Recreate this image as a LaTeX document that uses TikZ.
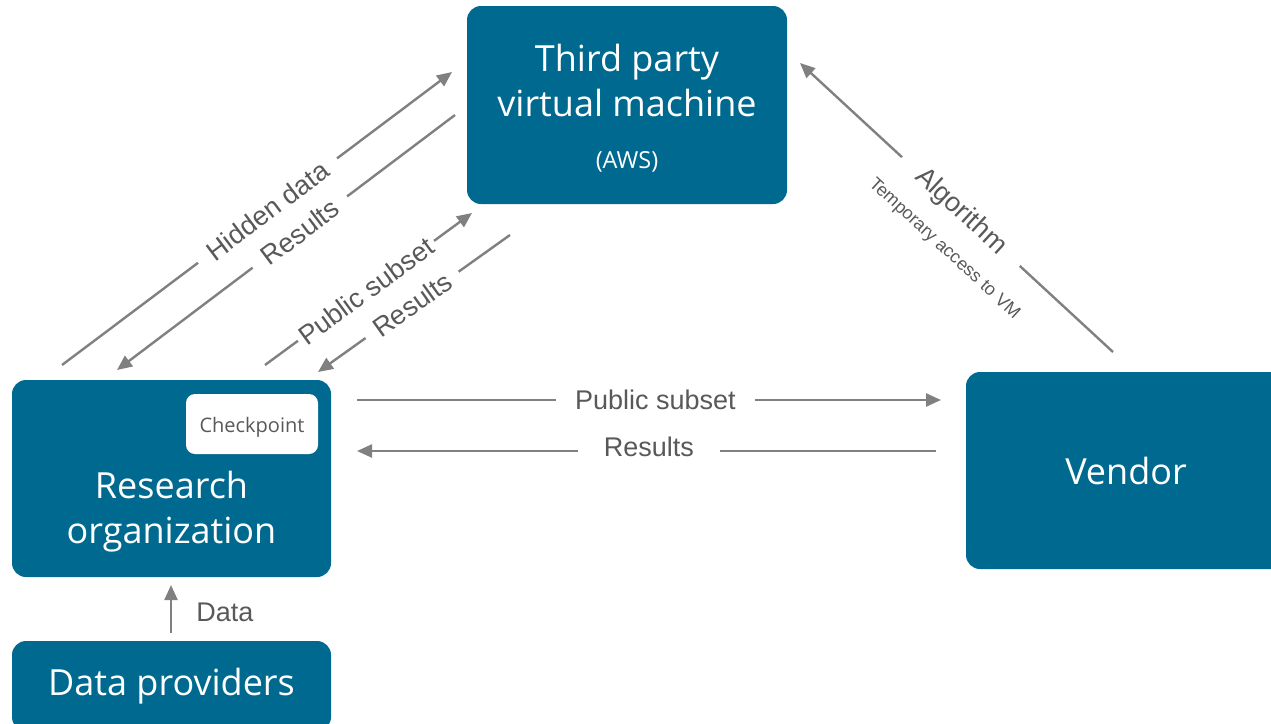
\documentclass[tikz,border=0pt]{standalone}
\usepackage{fontspec}
\setmainfont{Liberation Sans}
\newfontfamily\boxfont{Open Sans}
\usetikzlibrary{arrows.meta}
\definecolor{boxblue}{HTML}{00698F}
\definecolor{linegray}{HTML}{808080}
\definecolor{labelgray}{HTML}{595959}
\begin{document}
\begin{tikzpicture}[x=1pt,y=-1pt,
  entity/.style={fill=boxblue, rounded corners=14pt, inner sep=0pt},
  etext/.style={text=white, font=\boxfont\fontsize{36}{45}\selectfont, align=center, inner sep=0pt},
  conn/.style={draw=linegray, line width=2.4pt, -{Triangle[length=15pt,width=13pt]}},
  lbl/.style={font=\fontsize{27}{30}\selectfont, text=labelgray, fill=white, inner ysep=0pt, sloped},
]
\useasboundingbox (0,0) rectangle (1271,723);
% boxes
\node[entity, minimum width=320pt, minimum height=198pt] (vm) at (627,105) {};
\node[etext] (vmt) at (627,80) {Third party\\virtual machine};
\node[text=white, font=\boxfont\fontsize{23.5}{26}\selectfont, inner sep=0pt] (aws) at (627,161.5) {(AWS)};

\node[entity, minimum width=319pt, minimum height=197pt] (ro) at (171.5,478.5) {};
\node[etext] (rot) at (171.5,512) {Research\\organization};
\node[fill=white, rounded corners=9pt, minimum width=132pt, minimum height=60pt, inner sep=0pt,
      text=labelgray, font=\boxfont\fontsize{20}{22}\selectfont] (cp) at (252,424) {};
\node[text=labelgray, font=\boxfont\fontsize{20}{22}\selectfont, inner sep=0pt] (cpt) at (252,427) {Checkpoint};

\node[entity, minimum width=320pt, minimum height=197pt] (ven) at (1126,470.5) {};
\node[etext] (vent) at (1126,471) {Vendor};

\node[entity, minimum width=319pt, minimum height=90pt] (dp) at (171.5,686) {};
\node[etext] (dpt) at (171.5,686) {Data providers};

% coordinates
\coordinate (hdA) at (62,365);   \coordinate (hdB) at (452,72);
\coordinate (r1A) at (455,115);  \coordinate (r1B) at (117,370);
\coordinate (psA) at (265,365);  \coordinate (psB) at (472,213);
\coordinate (r2A) at (510,235);  \coordinate (r2B) at (318,372);
\coordinate (alA) at (1113,352); \coordinate (alB) at (800,63);
\coordinate (phA) at (357,400);  \coordinate (phB) at (941,400);
\coordinate (rhA) at (936,451);  \coordinate (rhB) at (357,451);
\coordinate (daA) at (171,633);  \coordinate (daB) at (171,585);

% connectors
\draw[conn] (hdA) -- node[lbl, pos=0.527, inner xsep=14pt] (lhd) {Hidden data} (hdB);
\draw[conn] (r1A) -- node[lbl, pos=0.459, inner xsep=14pt] (lr1) {Results} (r1B);
\draw[conn] (psA) -- node[lbl, pos=0.488, inner xsep=4pt] (lps) {Public subset} (psB);
\draw[conn] (r2A) -- node[lbl, pos=0.51, inner xsep=12pt] (lr2) {Results} (r2B);
\draw[conn] (alA) -- node[lbl, pos=0.486, inner xsep=23pt] (lal) {Algorithm} (alB);
\node[font=\fontsize{18}{20}\selectfont, text=labelgray, rotate=-42.7, inner sep=0pt] (tmp) at (944,249) {Temporary access to VM};
\draw[conn] (phA) -- node[lbl, pos=0.511, inner xsep=19pt] (lph) {Public subset} (phB);
\draw[conn] (rhA) -- node[lbl, pos=0.496, inner xsep=26pt, yshift=4pt] (lrh) {Results} (rhB);
\draw[conn] (daA) -- (daB);
\node[font=\fontsize{27}{30}\selectfont, text=labelgray, inner sep=0pt] (lda) at (225,612) {Data};
\end{tikzpicture}
\end{document}
